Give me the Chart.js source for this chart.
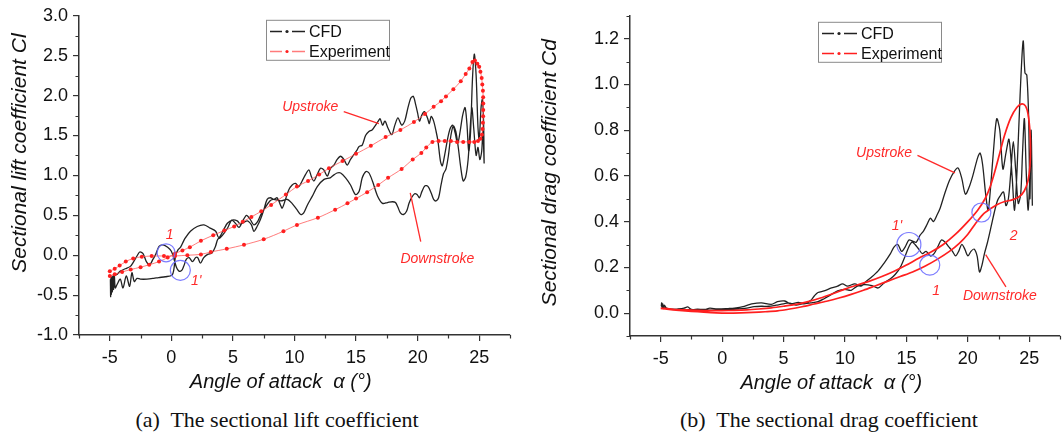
<!DOCTYPE html>
<html>
<head>
<meta charset="utf-8">
<script src="https://cdn.jsdelivr.net/npm/chart.js@4.4.1/dist/chart.umd.min.js"></script>
<style>
  html, body { margin: 0; padding: 0; background: #fff; }
  #page { position: relative; width: 1063px; height: 432px; overflow: hidden; }
  .panel { position: absolute; top: 0; }
  #liftPanel { left: 0; }
  #dragPanel { left: 530px; }
  .caption {
    position: absolute; top: 408px; line-height: 24px; white-space: nowrap;
    font-family: 'Liberation Serif', 'Times New Roman', serif; font-size: 22px; color: #111;
    transform: translateX(-50%);
  }
</style>
</head>
<body>
<div id="page">
  <div class="panel" id="liftPanel"><canvas id="liftChart" width="530" height="395"></canvas></div>
  <div class="panel" id="dragPanel"><canvas id="dragChart" width="533" height="395"></canvas></div>
  <div class="caption" style="left:277px">(a)&nbsp; The sectional lift coefficient</div>
  <div class="caption" style="left:829px">(b)&nbsp; The sectional drag coefficient</div>
</div>
<script>
// ---- data: [angle of attack (deg), coefficient] ----

const aoaTicks = [-5, 0, 5, 10, 15, 20, 25];
const aoaMinor = [-7.5, -2.5, 2.5, 7.5, 12.5, 17.5, 22.5, 27.5];
const liftTicks = [-1, -0.5, 0, 0.5, 1, 1.5, 2, 2.5, 3];
const liftMinor = [-0.75, -0.25, 0.25, 0.75, 1.25, 1.75, 2.25, 2.75];
const dragTicks = [0, 0.2, 0.4, 0.6, 0.8, 1.0, 1.2];
const dragMinor = [-0.1, 0.1, 0.3, 0.5, 0.7, 0.9, 1.1, 1.3];

// lift - experiment (dotted markers)
const liftExpUp = [
  [-5.0,-0.26],[-4.6,-0.24],[-4.0,-0.21],[-3.3,-0.18],[-2.5,-0.15],[-1.8,-0.12],[-1.0,-0.08],[-0.3,-0.03],
  [0.3,0.02],[0.9,0.06],[1.5,0.10],[2.4,0.18],[3.4,0.25],[4.3,0.31],[5.1,0.36],[5.8,0.42],[6.5,0.48],
  [7.3,0.55],[8.1,0.63],[9.3,0.76],[10.2,0.86],[11.1,0.93],[12.0,1.01],[12.8,1.09],[13.9,1.18],[15.0,1.27],
  [16.2,1.37],[17.4,1.48],[18.6,1.57],[19.7,1.67],[20.6,1.77],[21.3,1.86],[21.9,1.93],[22.3,1.99],[22.9,2.08],
  [23.5,2.18],[23.9,2.27],[24.2,2.34],[24.45,2.42]
];
const liftExpDown = [
  [24.65,2.44],[24.85,2.40],[25.0,2.36],[25.1,2.30],[25.2,2.22],[25.25,2.14],[25.3,2.06],[25.32,1.98],
  [25.33,1.90],[25.33,1.82],[25.32,1.74],[25.3,1.66],[25.27,1.58],[25.22,1.51],[25.1,1.46],[24.9,1.43],
  [24.6,1.42],[24.2,1.42],[23.7,1.42],[23.2,1.42],[22.7,1.43],[22.2,1.43],[21.7,1.43],[21.2,1.42],[20.7,1.35],
  [20.3,1.28],[19.6,1.20],[18.7,1.08],[17.6,0.97],[16.8,0.88],[15.9,0.79],[15.0,0.71],[14.3,0.65],[13.3,0.57],
  [11.9,0.47],[10.2,0.38],[9.1,0.30],[7.5,0.20],[5.9,0.13],[4.5,0.08],[3.2,0.04],[2.4,0.01],[1.3,0.00],
  [0.3,-0.01],[-0.6,-0.01],[-1.6,-0.01],[-2.4,-0.02],[-3.1,-0.04],[-3.7,-0.08],[-4.2,-0.13],[-4.6,-0.17],[-5.0,-0.20]
];

// lift - CFD
const liftCfdUp = [
  [-4.95,-0.30],[-4.93,-0.52],[-4.9,-0.28],[-4.87,-0.49],[-4.83,-0.27],[-4.79,-0.46],[-4.74,-0.26],[-4.69,-0.43],
  [-4.63,-0.25],[-4.56,-0.41],[-4.42,-0.37],[-4.15,-0.30],[-3.93,-0.41],[-3.66,-0.26],[-3.39,-0.39],[-3.2,-0.22],
  [-3.01,-0.33],[-2.79,-0.29],[-2.52,-0.30],[-1.98,-0.30],[-1.43,-0.29],[-1.03,-0.28],[-0.49,-0.27],[0.05,-0.25],
  [0.2,-0.18],[0.35,0.0],[0.55,0.07],[0.75,0.10],[1.0,0.18],[1.15,0.22],[1.55,0.30],[2.1,0.36],[2.65,0.38],
  [3.15,0.34],[3.6,0.30],[3.85,0.22],[4.25,0.32],[4.55,0.40],[4.95,0.44],[5.35,0.43],[5.6,0.39],[6.15,0.43],
  [6.5,0.38],[6.7,0.30],[6.96,0.36],[7.24,0.45],[7.51,0.57],[7.78,0.70],[8.05,0.72],[8.32,0.70],[8.59,0.72],
  [8.86,0.63],[9.0,0.59],[9.27,0.70],[9.54,0.82],[9.81,0.88],[10.08,0.90],[10.35,0.86],[10.62,0.93],[10.89,1.01],
  [11.17,1.07],[11.36,0.99],[11.57,0.93],[11.84,1.01],[12.11,1.09],[12.38,1.07],[12.66,0.99],[12.93,1.09],
  [13.2,1.13],[13.47,1.20],[13.74,1.24],[14.01,1.20],[14.28,1.13],[14.55,1.20],[14.82,1.26],[15.09,1.32],
  [15.23,1.36],[15.5,1.38],[15.77,1.50],[16.04,1.55],[16.3,1.57],[16.5,1.61],[16.8,1.68],[16.95,1.71],
  [17.15,1.63],[17.35,1.68],[17.6,1.59],[17.9,1.51],[18.15,1.63],[18.4,1.72],[18.7,1.63],[18.95,1.68],
  [19.2,1.84],[19.45,1.97],[19.65,1.99],[19.85,1.88],[20.0,1.78],[20.15,1.68],[20.35,1.76],[20.55,1.80],
  [20.8,1.72],[20.95,1.65],[21.1,1.74],[21.3,1.68],[21.5,1.55],[21.65,1.43],[21.85,1.18],[22.0,1.12],
  [22.2,1.26],[22.45,1.47],[22.65,1.59],[22.85,1.63],[23.05,1.53],[23.25,1.40],[23.45,1.55],[23.65,1.75],
  [23.85,1.85],[24.0,1.65],[24.15,1.30],[24.3,1.55],[24.45,2.20],[24.6,2.52],[24.75,2.25],[24.9,1.60],
  [25.0,1.45],[25.15,1.85],[25.25,1.95],[25.35,1.70],[25.4,1.15]
];
const liftCfdDown = [
  [25.4,1.15],[25.3,1.55],[25.2,1.30],[25.05,1.20],[24.9,1.35],[24.75,1.25],[24.55,1.60],[24.4,1.85],
  [24.25,1.55],[24.1,1.20],[23.9,0.98],[23.7,0.93],[23.5,1.10],[23.3,1.35],[23.1,1.55],[22.9,1.62],[22.7,1.50],
  [22.5,1.25],[22.3,1.08],[22.1,1.02],[21.9,0.88],[21.7,0.72],[21.5,0.68],[21.3,0.70],[21.1,0.78],[20.85,0.86],
  [20.6,0.87],[20.35,0.80],[20.15,0.72],[19.95,0.76],[19.75,0.77],[19.5,0.72],[19.3,0.65],[19.1,0.55],
  [18.85,0.51],[18.6,0.53],[18.4,0.60],[18.2,0.66],[17.95,0.67],[17.55,0.66],[17.15,0.65],[16.75,0.74],
  [16.35,0.92],[16.05,1.03],[15.8,1.05],[15.5,0.97],[15.25,0.80],[14.95,0.76],[14.55,0.88],[14.15,0.97],
  [13.75,1.03],[13.45,1.03],[13.15,1.00],[12.9,0.97],[12.4,0.95],[11.85,0.86],[11.45,0.74],[11.05,0.63],
  [10.75,0.53],[10.5,0.51],[10.2,0.57],[9.8,0.65],[9.4,0.70],[8.9,0.68],[8.3,0.70],[8.0,0.68],[7.55,0.58],
  [7.3,0.52],[7.0,0.42],[6.7,0.38],[6.4,0.45],[6.1,0.50],[5.8,0.43],[5.5,0.35],[5.2,0.40],[4.9,0.44],
  [4.6,0.35],[4.3,0.28],[3.98,0.22],[3.77,0.20],[3.58,0.11],[3.31,0.03],[2.95,0.01],[2.63,-0.03],[2.36,-0.10],
  [2.14,-0.03],[1.98,-0.03],[1.71,-0.08],[1.44,-0.03],[1.22,-0.05],[1.0,-0.14],[0.84,-0.19],[0.62,-0.20],
  [0.41,-0.15],[0.22,-0.05],[0.0,0.05],[-0.3,0.10],[-0.67,0.13],[-1.0,0.11],[-1.27,0.01],[-1.49,-0.05],
  [-1.76,-0.12],[-2.03,-0.08],[-2.3,0.02],[-2.57,0.04],[-2.79,-0.01],[-3.06,-0.08],[-3.33,-0.14],[-3.74,-0.17],
  [-4.15,-0.20],[-4.41,-0.24],[-4.7,-0.26],[-4.85,-0.35],[-4.95,-0.30]
];

// drag - experiment (solid red loop)
const dragExpUp = [
  [-5,0.022],[-4,0.017],[-3,0.014],[-2,0.012],[-1,0.011],[0,0.011],[1,0.012],[2,0.014],[3,0.018],[4,0.023],
  [5,0.030],[6,0.038],[7,0.050],[8,0.066],[9,0.085],[10,0.105],[11,0.123],[12,0.140],[13,0.160],[14,0.183],
  [15,0.210],[16,0.240],[17,0.267],[18,0.300],[19,0.345],[20,0.400],[20.8,0.450],[21.4,0.500],[21.8,0.550],
  [22.2,0.620],[22.6,0.700],[23.0,0.780],[23.5,0.855],[24.0,0.900],[24.4,0.915]
];
const dragExpDown = [
  [24.7,0.905],[24.9,0.870],[25.05,0.800],[25.1,0.720],[25.05,0.640],[24.9,0.580],[24.6,0.535],[24.2,0.510],
  [23.6,0.495],[23.0,0.488],[22.4,0.475],[21.8,0.455],[21.2,0.430],[20.6,0.390],[20.0,0.345],[19.3,0.305],
  [18.5,0.270],[17.5,0.235],[16.5,0.205],[15.5,0.180],[14.5,0.160],[13.5,0.140],[12.5,0.120],[11.5,0.100],
  [10.5,0.082],[9.5,0.066],[8.5,0.052],[7.5,0.040],[6.5,0.028],[5.5,0.018],[4.5,0.010],[3.5,0.006],
  [2.5,0.003],[1.5,0.001],[0.5,0.000],[-0.5,0.001],[-1.5,0.004],[-2.5,0.008],[-3.5,0.012],[-4.5,0.017],[-5,0.020]
];

// drag - CFD
const dragCfdUp = [
  [-4.95,0.030],[-4.92,0.045],[-4.88,0.022],[-4.83,0.040],[-4.77,0.020],[-4.7,0.035],[-4.55,0.022],[-4.3,0.018],
  [-4.0,0.016],[-3.6,0.018],[-3.1,0.022],[-2.8,0.027],[-2.5,0.016],[-2.0,0.017],[-1.4,0.016],[-1.0,0.022],
  [-0.4,0.018],[0.5,0.020],[1.0,0.022],[1.8,0.030],[2.4,0.040],[3.2,0.045],[4.0,0.038],[4.5,0.050],[5.1,0.053],
  [5.6,0.040],[6.2,0.047],[6.7,0.042],[7.2,0.055],[7.5,0.075],[7.8,0.090],[8.3,0.097],[8.9,0.110],[9.4,0.118],
  [9.8,0.128],[10.2,0.118],[10.8,0.128],[11.3,0.118],[11.6,0.133],[12.1,0.155],[12.7,0.185],[13.2,0.220],
  [13.7,0.260],[14.0,0.290],[14.3,0.300],[14.6,0.270],[14.9,0.290],[15.2,0.320],[15.5,0.315],[15.8,0.310],
  [16.1,0.340],[16.4,0.360],[16.7,0.390],[16.95,0.415],[17.2,0.400],[17.5,0.430],[17.75,0.460],[18.1,0.520],
  [18.5,0.580],[18.9,0.620],[19.2,0.635],[19.5,0.590],[19.8,0.520],[20.1,0.550],[20.4,0.600],[20.8,0.680],
  [21.0,0.700],[21.2,0.650],[21.45,0.520],[21.65,0.450],[21.85,0.550],[22.1,0.720],[22.35,0.850],[22.6,0.800],
  [22.85,0.630],[23.1,0.700],[23.35,0.760],[23.6,0.600],[23.8,0.450],[24.0,0.620],[24.25,0.950],[24.5,1.190],
  [24.65,1.050],[24.8,1.040],[24.95,0.850],[25.05,0.500],[25.15,0.800],[25.25,0.470]
];
const dragCfdDown = [
  [25.25,0.470],[25.15,0.780],[25.05,0.600],[24.9,0.450],[24.75,0.620],[24.6,0.850],[24.45,0.700],[24.3,0.520],
  [24.1,0.480],[23.9,0.620],[23.7,0.750],[23.5,0.620],[23.3,0.500],[23.1,0.470],[22.9,0.530],[22.6,0.510],
  [22.4,0.490],[22.15,0.440],[21.9,0.380],[21.6,0.310],[21.35,0.260],[21.15,0.210],[20.95,0.180],[20.75,0.250],
  [20.5,0.280],[20.25,0.270],[20.0,0.250],[19.75,0.280],[19.5,0.300],[19.25,0.270],[19.0,0.250],[18.75,0.270],
  [18.45,0.290],[18.15,0.310],[17.85,0.320],[17.55,0.290],[17.25,0.260],[16.95,0.250],[16.6,0.270],[16.3,0.260],
  [16.0,0.280],[15.7,0.300],[15.45,0.310],[15.2,0.290],[14.9,0.250],[14.5,0.200],[14.1,0.170],[13.7,0.150],
  [13.2,0.133],[12.7,0.110],[12.2,0.120],[11.6,0.125],[11.0,0.118],[10.5,0.100],[9.95,0.104],[9.4,0.097],
  [8.9,0.082],[8.3,0.063],[7.8,0.050],[7.2,0.045],[6.5,0.040],[6.0,0.035],[5.4,0.045],[5.0,0.040],[4.4,0.035],
  [3.8,0.030],[3.2,0.030],[2.6,0.028],[2.0,0.022],[1.2,0.018],[0.5,0.016],[-0.5,0.014],[-1.5,0.013],
  [-2.5,0.015],[-3.5,0.016],[-4.3,0.018],[-4.8,0.025],[-4.95,0.030]
];

// annotation anchors (data coords)
const liftNotes = [
  { text: 'Upstroke', x: 9.0, y: 1.86 }, { text: 'Downstroke', x: 18.6, y: -0.05 },
  { text: '1', x: -0.45, y: 0.25 }, { text: "1'", x: 1.6, y: -0.32 }
];
const liftLeaders = [[14.0, 1.80, 16.85, 1.65], [19.4, 0.78, 20.25, 0.17]];
const liftCircles = [[-0.43, 0.03, 9], [0.73, -0.19, 10]];
const dragNotes = [
  { text: 'Upstroke', x: 10.9, y: 0.70 }, { text: 'Downstroke', x: 19.6, y: 0.074 },
  { text: "1'", x: 13.8, y: 0.38 }, { text: '1', x: 17.1, y: 0.096 }, { text: '2', x: 23.4, y: 0.336 }
];
const dragLeaders = [[15.9, 0.69, 18.95, 0.613], [23.1, 0.115, 21.45, 0.256]];
const dragCircles = [[15.2, 0.30, 12], [16.9, 0.21, 10], [21.1, 0.44, 9.5]];

// ---- drawing ----

const SANS = "'Liberation Sans', Arial, Helvetica, sans-serif";
const AXIS = '#333';
const pts = list => list.map(([x, y]) => ({ x, y }));

// short minor tick marks between the labelled ones
const minorTicks = {
    id: 'minorTicks',
    afterDraw(chart, args, o) {
        const { ctx, scales: { x, y } } = chart;
        ctx.save();
        ctx.strokeStyle = AXIS;
        ctx.lineWidth = 1.2;
        ctx.beginPath();
        o.x.forEach(v => {
            const px = Math.round(x.getPixelForValue(v)) + 0.5;
            ctx.moveTo(px, x.top);
            ctx.lineTo(px, x.top + 3.5);
        });
        o.y.forEach(v => {
            const py = Math.round(y.getPixelForValue(v)) + 0.5;
            ctx.moveTo(y.right, py);
            ctx.lineTo(y.right - 3.5, py);
        });
        ctx.stroke();
        ctx.restore();
    }
};

// italic axis titles placed relative to the plot area
const axisTitles = {
    id: 'axisTitles',
    afterDraw(chart, args, o) {
        const { ctx, chartArea: a } = chart;
        ctx.save();
        ctx.fillStyle = '#111';
        ctx.textAlign = 'center';
        ctx.textBaseline = 'middle';
        ctx.font = `italic ${o.xSize}px ${SANS}`;
        ctx.fillText(o.x, a.left + (a.right - a.left) * o.xPos, a.bottom + o.xGap);
        ctx.font = `italic ${o.ySize}px ${SANS}`;
        ctx.translate(a.left - o.yGap, a.top + (a.bottom - a.top) * o.yPos);
        ctx.rotate(-Math.PI / 2);
        ctx.fillText(o.y, 0, 0);
        ctx.restore();
    }
};

// boxed legend with dash-dot samples
const boxLegend = {
    id: 'boxLegend',
    afterDatasetsDraw(chart, args, o) {
        const { ctx, chartArea: a } = chart;
        const left = a.left + o.dx, top = a.top + o.dy;
        ctx.save();
        ctx.fillStyle = '#fff';
        ctx.fillRect(left, top, o.w, o.h);
        ctx.strokeStyle = '#8a8a8a';
        ctx.lineWidth = 1;
        ctx.strokeRect(left + 0.5, top + 0.5, o.w, o.h);
        o.items.forEach((it, i) => {
            const y = Math.round(top + o.row0 + i * o.rowGap) + 0.5;
            const sx = left + 4;
            ctx.strokeStyle = it.color;
            ctx.lineWidth = it.width;
            ctx.beginPath();
            ctx.moveTo(sx, y); ctx.lineTo(sx + 12, y);
            ctx.moveTo(sx + 22, y); ctx.lineTo(sx + 35, y);
            ctx.stroke();
            ctx.fillStyle = it.dot;
            ctx.beginPath();
            ctx.arc(sx + 17, y, 1.6, 0, Math.PI * 2);
            ctx.fill();
            ctx.fillStyle = '#111';
            ctx.font = `16px ${SANS}`;
            ctx.textAlign = 'left';
            ctx.textBaseline = 'middle';
            ctx.fillText(it.label, sx + 39, y + 1);
        });
        ctx.restore();
    }
};

// red notes, leader lines and blue circles
const notes = {
    id: 'notes',
    afterDatasetsDraw(chart, args, o) {
        const { ctx, scales: { x, y } } = chart;
        ctx.save();
        ctx.strokeStyle = '#ff2a2a';
        ctx.lineWidth = 1.3;
        o.leaders.forEach(([x1, y1, x2, y2]) => {
            ctx.beginPath();
            ctx.moveTo(x.getPixelForValue(x1), y.getPixelForValue(y1));
            ctx.lineTo(x.getPixelForValue(x2), y.getPixelForValue(y2));
            ctx.stroke();
        });
        ctx.strokeStyle = 'rgba(110,110,255,0.9)';
        ctx.lineWidth = 1.2;
        o.circles.forEach(([cx, cy, r]) => {
            ctx.beginPath();
            ctx.arc(x.getPixelForValue(cx), y.getPixelForValue(cy), r, 0, Math.PI * 2);
            ctx.stroke();
        });
        ctx.fillStyle = '#ff2a2a';
        ctx.font = `italic 14px ${SANS}`;
        ctx.textAlign = 'left';
        ctx.textBaseline = 'middle';
        o.texts.forEach(t => ctx.fillText(t.text, x.getPixelForValue(t.x), y.getPixelForValue(t.y)));
        ctx.restore();
    }
};

function makeChart(canvasId, c) {
    const ctx = document.getElementById(canvasId);
    return new Chart(ctx, {
        type: 'scatter',
        data: {
            datasets: [{
                label: 'Experiment',
                data: pts(c.exp),
                showLine: true,
                borderColor: c.expColor,
                borderWidth: c.expWidth,
                pointRadius: c.expDot,
                pointBackgroundColor: '#ff2020',
                pointBorderWidth: 0,
                tension: 0.3
            }, {
                label: 'CFD',
                data: pts(c.cfd),
                showLine: true,
                borderColor: '#222',
                borderWidth: 1.3,
                pointRadius: 0,
                tension: 0.3
            }]
        },
        options: {
            responsive: false,
            animation: false,
            events: [],
            layout: { padding: { left: 0, top: 13, right: c.padRight, bottom: 0 } },
            scales: {
                x: {
                    type: 'linear', min: -7.5, max: 27.5,
                    afterBuildTicks: s => { s.ticks = aoaTicks.map(v => ({ value: v })); },
                    afterFit: s => { s.height = c.xHeight; },
                    ticks: { color: '#111', padding: 6, maxRotation: 0, autoSkip: false, font: { family: SANS, size: 18 }, callback: v => String(v) },
                    grid: { drawOnChartArea: false, drawTicks: true, tickLength: 6, color: AXIS, lineWidth: 1.2 },
                    border: { display: true, color: AXIS, width: 1.5 }
                },
                y: {
                    type: 'linear', min: c.yMin, max: c.yMax,
                    afterBuildTicks: s => { s.ticks = c.yTicks.map(v => ({ value: v })); },
                    afterFit: s => { s.width = c.yWidth; },
                    ticks: { color: '#111', padding: 5, autoSkip: false, font: { family: SANS, size: 18 }, callback: v => v.toFixed(1) },
                    grid: { drawOnChartArea: false, drawTicks: true, tickLength: 6, color: AXIS, lineWidth: 1.2 },
                    border: { display: true, color: AXIS, width: 1.5 }
                }
            },
            plugins: {
                legend: { display: false },
                tooltip: { enabled: false },
                minorTicks: { x: aoaMinor, y: c.yMinor },
                axisTitles: {
                    x: 'Angle of attack  \u03b1 (\u00b0)', xSize: 20, xPos: 0.468, xGap: 47,
                    y: c.yTitle, ySize: 21, yGap: c.yWidth - 20, yPos: c.yTitlePos
                },
                boxLegend: {
                    dx: c.legendDx, dy: c.legendDy, w: 123, h: 40, row0: 11.5, rowGap: 19.5,
                    items: [
                        { label: 'CFD', color: '#222', width: 1.4, dot: '#222' },
                        { label: 'Experiment', color: c.legendRed, width: 1.4, dot: '#ff2020' }
                    ]
                },
                notes: { texts: c.notes, leaders: c.leaders, circles: c.circles }
            }
        },
        plugins: [minorTicks, axisTitles, boxLegend, notes]
    });
}

makeChart('liftChart', {
    exp: liftExpUp.concat(liftExpDown),
    cfd: liftCfdUp.concat(liftCfdDown),
    expColor: 'rgba(255,80,80,0.75)', expWidth: 1, expDot: 2,
    legendRed: 'rgba(255,90,90,0.8)',
    yMin: -1, yMax: 3, yTicks: liftTicks, yMinor: liftMinor,
    yTitle: 'Sectional lift coefficient Cl', yTitlePos: 0.43,
    padRight: 20, xHeight: 60, yWidth: 79,
    legendDx: 187, legendDy: 4,
    notes: liftNotes, leaders: liftLeaders, circles: liftCircles
});

makeChart('dragChart', {
    exp: dragExpUp.concat(dragExpDown),
    cfd: dragCfdUp.concat(dragCfdDown),
    expColor: '#ff1f1f', expWidth: 1.7, expDot: 0,
    legendRed: '#ff1f1f',
    yMin: -0.1, yMax: 1.3, yTicks: dragTicks, yMinor: dragMinor,
    yTitle: 'Sectional drag coefficient Cd', yTitlePos: 0.49,
    padRight: 3, xHeight: 59, yWidth: 100,
    legendDx: 188, legendDy: 6,
    notes: dragNotes, leaders: dragLeaders, circles: dragCircles
});
</script>
</body>
</html>
